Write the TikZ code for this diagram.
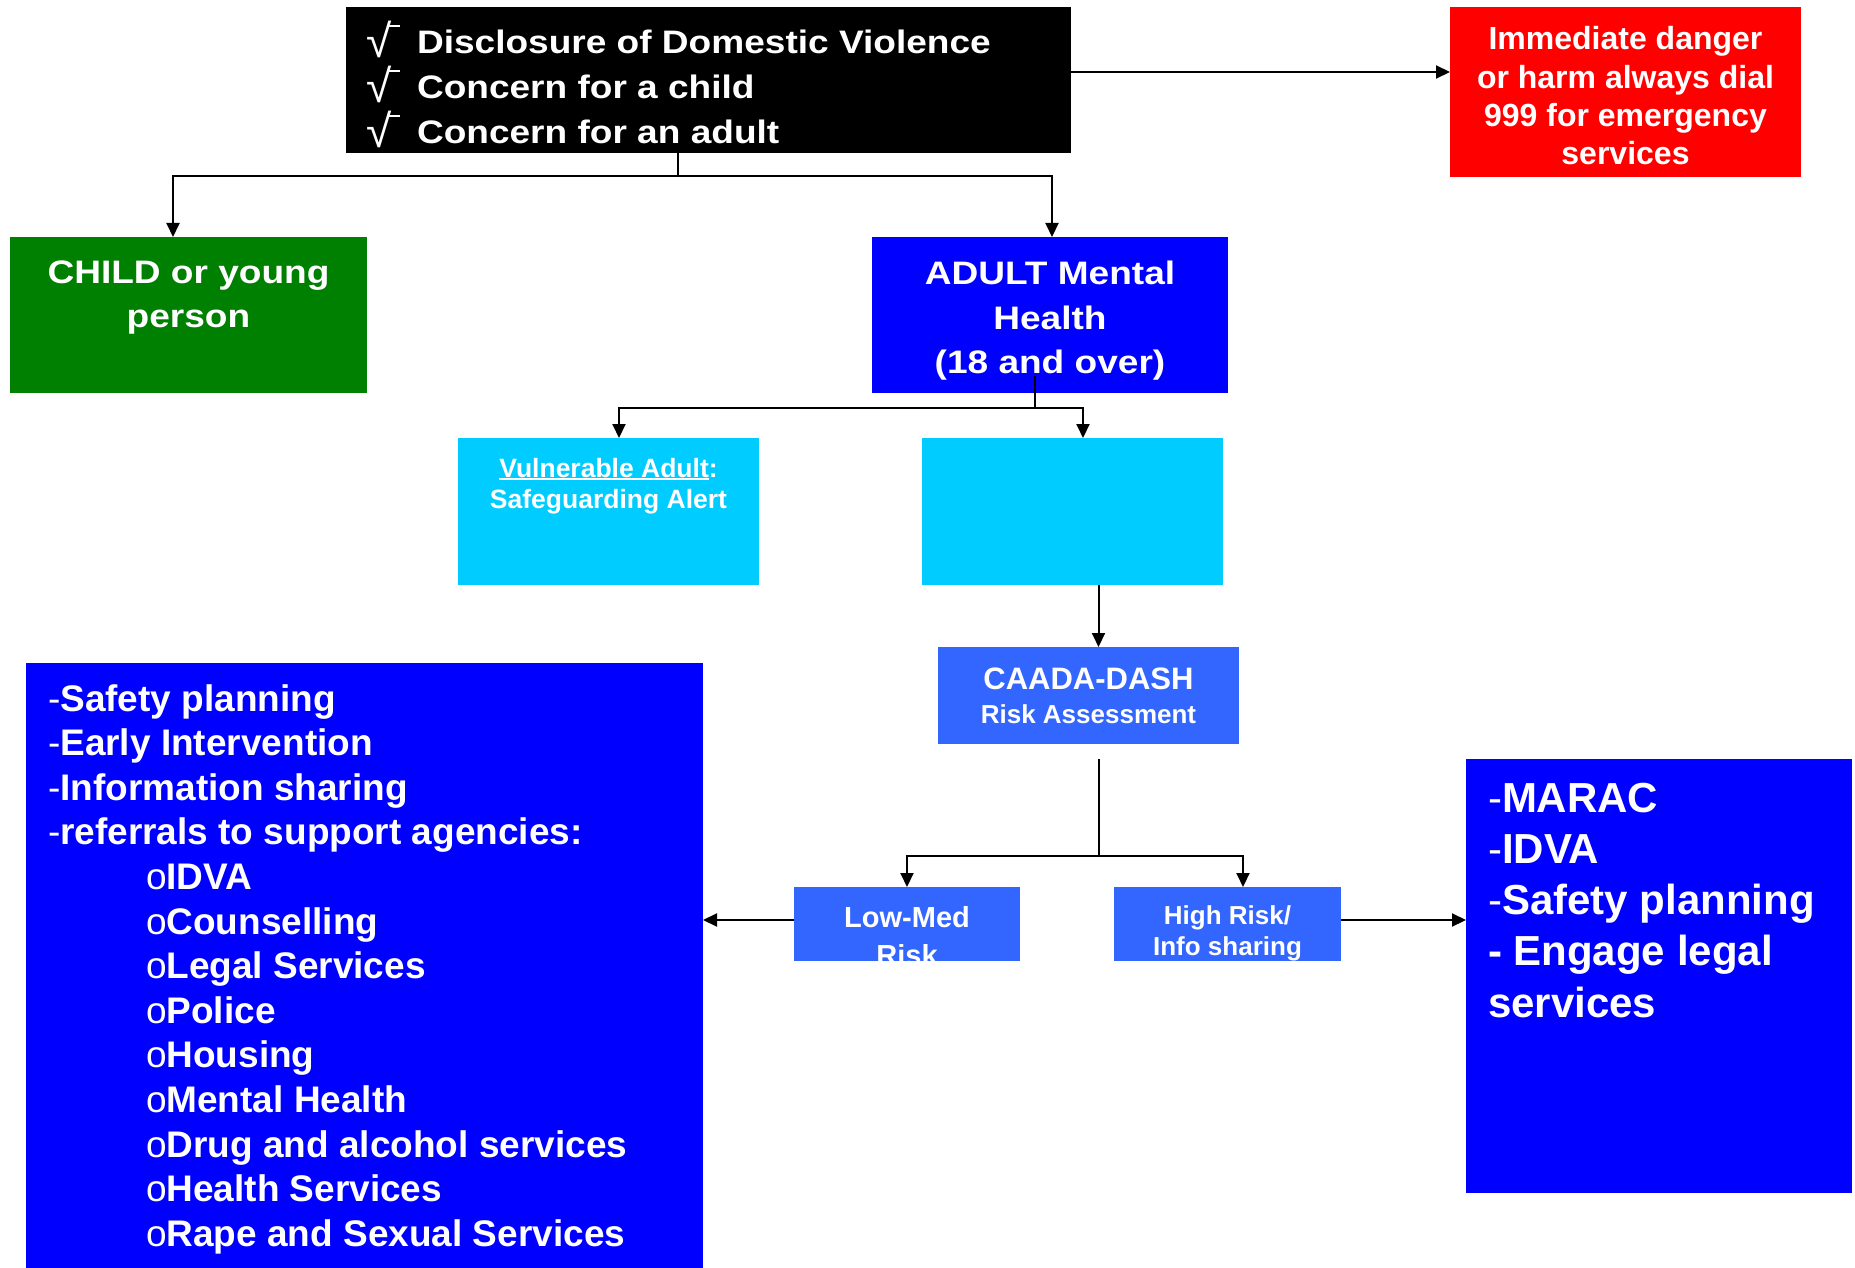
\documentclass[tikz,border=0pt]{standalone}
\usepackage{fontspec}
\setmainfont{Liberation Sans}
\newfontfamily\widefont[FakeStretch=1.14]{Liberation Sans}
\usetikzlibrary{arrows.meta}
\definecolor{cgreen}{HTML}{008000}
\definecolor{cblue}{HTML}{0000FF}
\definecolor{ccyan}{HTML}{00CCFF}
\definecolor{cmid}{HTML}{3366FF}
\definecolor{cred}{HTML}{FF0000}
\newcommand{\myul}[1]{\setbox0\hbox{#1}\rlap{\rule[-2.6pt]{\wd0}{1.8pt}}\box0}
\newcommand{\mycheck}{\raisebox{-3.5pt}{√}\kern-2.8pt\rule[27pt]{12pt}{2pt}}
\tikzset{
  box/.style={inner sep=0pt, outer sep=0pt, draw=none},
  txt/.style={inner sep=0pt, outer sep=0pt, text=white},
  arr/.style={line width=2pt, -{Triangle[length=14pt,width=13pt]}},
  ln/.style={line width=2pt},
  widebig/.style={font=\widefont\bfseries\fontsize{32.5}{39}\selectfont},
  chk/.style={font=\fontsize{46}{46}\selectfont},
  listfont/.style={font=\bfseries\fontsize{37}{44}\selectfont},
  rlistfont/.style={font=\bfseries\fontsize{42}{50}\selectfont},
}
\begin{document}
\begin{tikzpicture}[x=1pt,y=-1pt]
\fill[white] (0,0) rectangle (1855,1268);
\useasboundingbox (0,0) rectangle (1855,1268);

% boxes
\node[box, fill=black, minimum width=725pt, minimum height=146pt] (black) at (708.5,80) {};
\node[box, fill=cred, minimum width=351pt, minimum height=170pt] (red) at (1625.5,92) {};
\node[box, fill=cgreen, minimum width=357pt, minimum height=156pt] (green) at (188.5,315) {};
\node[box, fill=cblue, minimum width=356pt, minimum height=156pt] (adult) at (1050,315) {};
\node[box, fill=ccyan, minimum width=301pt, minimum height=147pt] (vuln) at (608.5,511.5) {};
\node[box, fill=ccyan, minimum width=301pt, minimum height=147pt] (cyan) at (1072.5,511.5) {};
\node[box, fill=cmid, minimum width=301pt, minimum height=97pt] (caada) at (1088.5,695.5) {};
\node[box, fill=cmid, minimum width=226pt, minimum height=74pt] (low) at (907,924) {};
\node[box, fill=cmid, minimum width=227pt, minimum height=74pt] (high) at (1227.5,924) {};
\node[box, fill=cblue, minimum width=677pt, minimum height=605pt] (leftbox) at (364.5,965.5) {};
\node[box, fill=cblue, minimum width=386pt, minimum height=434pt] (rightbox) at (1659,976) {};

% black box text
\node[txt, chk, anchor=base west] (c1) at (366,54) {\mycheck};
\node[txt, chk, anchor=base west] (c2) at (366,99) {\mycheck};
\node[txt, chk, anchor=base west] (c3) at (366,144) {\mycheck};
\node[txt, widebig, anchor=base west] (d1) at (417,54) {Disclosure of Domestic Violence};
\node[txt, widebig, anchor=base west] (d2) at (417,99) {Concern for a child};
\node[txt, widebig, anchor=base west] (d3) at (417,144) {Concern for an adult};

% red text
\foreach [count=\i] \t/\y in {Immediate danger/50, or harm always dial/88.3, 999 for emergency/126.6, services/165}
  \node[txt, anchor=base, font=\bfseries\fontsize{32}{38}\selectfont] (r\i) at (1625.5,\y) {\t};

% green text
\node[txt, widebig, anchor=base] (g1) at (188.5,283) {CHILD or young};
\node[txt, widebig, anchor=base] (g2) at (188.5,327) {person};

% adult text
\node[txt, widebig, anchor=base] (a1) at (1050,284) {ADULT Mental};
\node[txt, widebig, anchor=base] (a2) at (1050,329) {Health};
\node[txt, widebig, anchor=base] (a3) at (1050,373) {(18 and over)};

% vulnerable text
\node[txt, anchor=base, font=\bfseries\fontsize{26.5}{31}\selectfont] (v1) at (608.5,477) {\myul{Vulnerable Adult}:};
\node[txt, anchor=base, font=\bfseries\fontsize{26.5}{31}\selectfont] (v2) at (608.5,508) {Safeguarding Alert};

% caada text
\node[txt, anchor=base, font=\bfseries\fontsize{31}{36}\selectfont] (k1) at (1088.5,689) {CAADA-DASH};
\node[txt, anchor=base, font=\bfseries\fontsize{26}{31}\selectfont] (k2) at (1088.5,723) {Risk Assessment};

% low / high text (clipped)
\begin{scope}
\clip (low.north west) rectangle (low.south east);
\node[txt, anchor=base, font=\bfseries\fontsize{29}{35}\selectfont] (l1) at (907,927) {Low-Med};
\node[txt, anchor=base, font=\bfseries\fontsize{29}{35}\selectfont] (l2) at (907,965) {Risk};
\end{scope}
\begin{scope}
\clip (high.north west) rectangle (high.south east);
\node[txt, anchor=base, font=\bfseries\fontsize{26}{31}\selectfont] (h1) at (1227.5,924) {High Risk/};
\node[txt, anchor=base, font=\bfseries\fontsize{26}{31}\selectfont] (h2) at (1227.5,955) {Info sharing};
\end{scope}

% left list
\foreach [count=\i] \t in {Safety planning, Early Intervention, Information sharing, referrals to support agencies:}
  \node[txt, listfont, anchor=base west] (ld\i) at (48,{711+(\i-1)*44.6}) {{\mdseries -}\t};
\foreach [count=\i] \t in {IDVA, Counselling, Legal Services, Police, Housing, Mental Health, Drug and alcohol services, Health Services, Rape and Sexual Services}
  \node[txt, listfont, anchor=base west] (lb\i) at (146,{711+(\i+3)*44.6}) {{\mdseries o}\t};

% right list
\node[txt, rlistfont, anchor=base west] (m1) at (1488,812) {{\mdseries -}MARAC};
\node[txt, rlistfont, anchor=base west] (m2) at (1488,863) {{\mdseries -}IDVA};
\node[txt, rlistfont, anchor=base west] (m3) at (1488,914) {{\mdseries -}Safety planning};
\node[txt, rlistfont, anchor=base west] (m4) at (1488,965) {- Engage legal};
\node[txt, rlistfont, anchor=base west] (m5) at (1488,1017) {services};

% connectors
\coordinate (j1) at (678,176);
\coordinate (aout) at (1035,376);
\coordinate (j2) at (1035,408);
\coordinate (cout) at (1099,759);
\coordinate (j3) at (1099,856);

\draw[arr] ([yshift=8pt]black.east) -- ([yshift=8pt]black.east -| red.west);
\draw[ln] ([xshift=-30.5pt]black.south) -- (j1);
\draw[arr] (j1) -| ([xshift=-15.5pt]green.north);
\draw[arr] (j1) -| ([xshift=2pt]adult.north);
\draw[ln] (aout) -- (j2);
\draw[arr] (j2) -| ([xshift=10.5pt]vuln.north);
\draw[arr] (j2) -| ([xshift=10.5pt]cyan.north);
\draw[arr] ([xshift=26pt]cyan.south) -- ([xshift=10pt]caada.north);
\draw[ln] (cout) -- (j3);
\draw[arr] (j3) -| (low.north);
\draw[arr] (j3) -| ([xshift=15.5pt]high.north);
\draw[arr] ([yshift=4pt]low.west) -- ([yshift=4pt]low.west -| leftbox.east);
\draw[arr] ([yshift=4pt]high.east) -- ([yshift=4pt]high.east -| rightbox.west);
\end{tikzpicture}
\end{document}
